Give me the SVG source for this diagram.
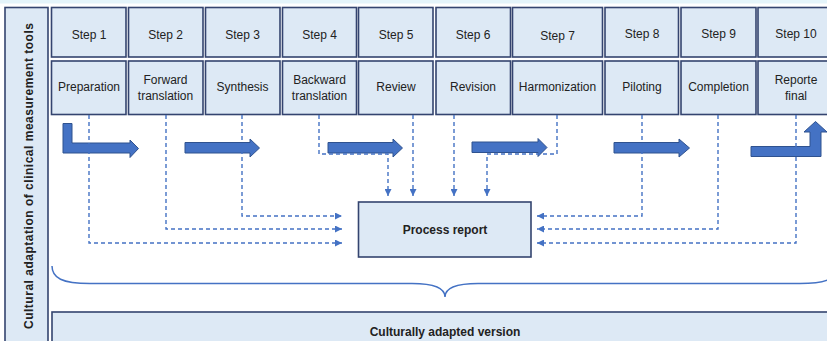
<svg xmlns="http://www.w3.org/2000/svg" width="827" height="341" viewBox="0 0 827 341">
  <defs>
    <style>
      .box { fill: #dde9f5; stroke: #34446f; stroke-width: 1.6; }
      .lbl { font-family: "Liberation Sans", Arial, sans-serif; font-size: 12px; fill: #222; text-anchor: middle; }
      .bold { font-weight: bold; }
      .dash { fill: none; stroke: #4472c4; stroke-width: 1.4; stroke-dasharray: 4 3; }
      .blk { fill: #4472c4; stroke: #2f528f; stroke-width: 1; }
    </style>
    <marker id="ah" viewBox="0 0 8 8" refX="8" refY="4" markerWidth="7" markerHeight="7" markerUnits="userSpaceOnUse" orient="auto">
      <path d="M0,0 L8,4 L0,8 Z" fill="#4472c4"/>
    </marker>
  </defs>

  <rect x="0" y="0" width="827" height="3.5" fill="#e4f4fa"/>

  <!-- side title -->
  <g id="side-title">
    <rect class="box" x="5" y="7.5" width="43" height="340"/>
    <text class="lbl bold" transform="translate(33,176) rotate(-90)" textLength="306" lengthAdjust="spacing">Cultural adaptation of clinical measurement tools</text>
  </g>

  <!-- step headers -->
  <g id="step1"><rect class="box" x="51.5" y="7.5" width="74.5" height="49.5"/><text class="lbl" x="89" y="39">Step 1</text>
    <rect class="box" x="51.5" y="61" width="74.5" height="53.5"/><text class="lbl" x="89" y="91">Preparation</text></g>
  <g id="step2"><rect class="box" x="128.5" y="7.5" width="74.5" height="49.5"/><text class="lbl" x="165.5" y="39">Step 2</text>
    <rect class="box" x="128.5" y="61" width="74.5" height="53.5"/><text class="lbl" x="165.5" y="84">Forward</text><text class="lbl" x="165.5" y="100">translation</text></g>
  <g id="step3"><rect class="box" x="205.5" y="7.5" width="74.5" height="49.5"/><text class="lbl" x="242.5" y="39">Step 3</text>
    <rect class="box" x="205.5" y="61" width="74.5" height="53.5"/><text class="lbl" x="242.5" y="91">Synthesis</text></g>
  <g id="step4"><rect class="box" x="282.5" y="7.5" width="74" height="49.5"/><text class="lbl" x="319.5" y="39">Step 4</text>
    <rect class="box" x="282.5" y="61" width="74" height="53.5"/><text class="lbl" x="319.5" y="84">Backward</text><text class="lbl" x="319.5" y="100">translation</text></g>
  <g id="step5"><rect class="box" x="358.5" y="7.5" width="74.5" height="49.5"/><text class="lbl" x="396" y="39">Step 5</text>
    <rect class="box" x="358.5" y="61" width="74.5" height="53.5"/><text class="lbl" x="396" y="91">Review</text></g>
  <g id="step6"><rect class="box" x="436" y="7.5" width="74.5" height="49.5"/><text class="lbl" x="473" y="39">Step 6</text>
    <rect class="box" x="436" y="61" width="74.5" height="53.5"/><text class="lbl" x="473" y="91">Revision</text></g>
  <g id="step7"><rect class="box" x="512.5" y="7.5" width="90" height="49.5"/><text class="lbl" x="557.5" y="40">Step 7</text>
    <rect class="box" x="512.5" y="61" width="90" height="53.5"/><text class="lbl" x="557.5" y="91">Harmonization</text></g>
  <g id="step8"><rect class="box" x="605" y="7.5" width="73.5" height="49.5"/><text class="lbl" x="642" y="38">Step 8</text>
    <rect class="box" x="605" y="61" width="73.5" height="53.5"/><text class="lbl" x="642" y="91">Piloting</text></g>
  <g id="step9"><rect class="box" x="681" y="7.5" width="75" height="49.5"/><text class="lbl" x="718.5" y="38">Step 9</text>
    <rect class="box" x="681" y="61" width="75" height="53.5"/><text class="lbl" x="718.5" y="91">Completion</text></g>
  <g id="step10"><rect class="box" x="758" y="7.5" width="76" height="49.5"/><text class="lbl" x="796" y="38">Step 10</text>
    <rect class="box" x="758" y="61" width="76" height="53.5"/><text class="lbl" x="796" y="84">Reporte</text><text class="lbl" x="796" y="100">final</text></g>

  <!-- flow arrows -->
  <g id="flow-arrows">
    <path class="blk" d="M63,123.5 H72 V143 H130 V140 L138.5,148.5 L130,157.5 V153 H63 Z"/>
    <path class="blk" d="M185,142.5 H250 V139 L259.5,148 L250,157 V153 H185 Z"/>
    <path class="blk" d="M328,142.5 H393 V139 L402.5,148 L393,157 V153 H328 Z"/>
    <path class="blk" d="M472,142 H538 V138.5 L547,147.5 L538,156.5 V152.5 H472 Z"/>
    <path class="blk" d="M614,142.5 H679 V139 L689.5,148 L679,157 V153 H614 Z"/>
    <path class="blk" d="M751,146.5 H810 V132 H804 L815.5,121.5 L827,132 H821 V156.5 H751 Z"/>
  </g>

  <!-- connectors to the process report -->
  <g id="connectors">
    <path class="dash" d="M89,115 V243 H342" marker-end="url(#ah)"/>
    <path class="dash" d="M166,115 V229 H342" marker-end="url(#ah)"/>
    <path class="dash" d="M242,115 V216 H342" marker-end="url(#ah)"/>
    <path class="dash" d="M319,115 V154 H388 V196" marker-end="url(#ah)"/>
    <path class="dash" d="M413,115 V196" marker-end="url(#ah)"/>
    <path class="dash" d="M454,115 V196" marker-end="url(#ah)"/>
    <path class="dash" d="M557,115 V154 H487 V196" marker-end="url(#ah)"/>
    <path class="dash" d="M642,115 V216 H537" marker-end="url(#ah)"/>
    <path class="dash" d="M718,115 V229 H537" marker-end="url(#ah)"/>
    <path class="dash" d="M796,115 V243 H537" marker-end="url(#ah)"/>
  </g>

  <g id="process-report">
    <rect class="box" x="358.5" y="202" width="172.5" height="55"/>
    <text class="lbl bold" x="445" y="234">Process report</text>
  </g>

  <!-- brace grouping all steps -->
  <path d="M52,266 C52,278 62,283.5 90,283.5 L412,283.5 C434,283.5 445,288 445,297 C445,288 456,283.5 478,283.5 L800,283.5 C828,283.5 838,278 838,266" fill="none" stroke="#4472c4" stroke-width="1.5"/>

  <g id="adapted-version">
    <rect class="box" x="52" y="312" width="790" height="40"/>
    <text class="lbl bold" x="445" y="336">Culturally adapted version</text>
  </g>
</svg>
